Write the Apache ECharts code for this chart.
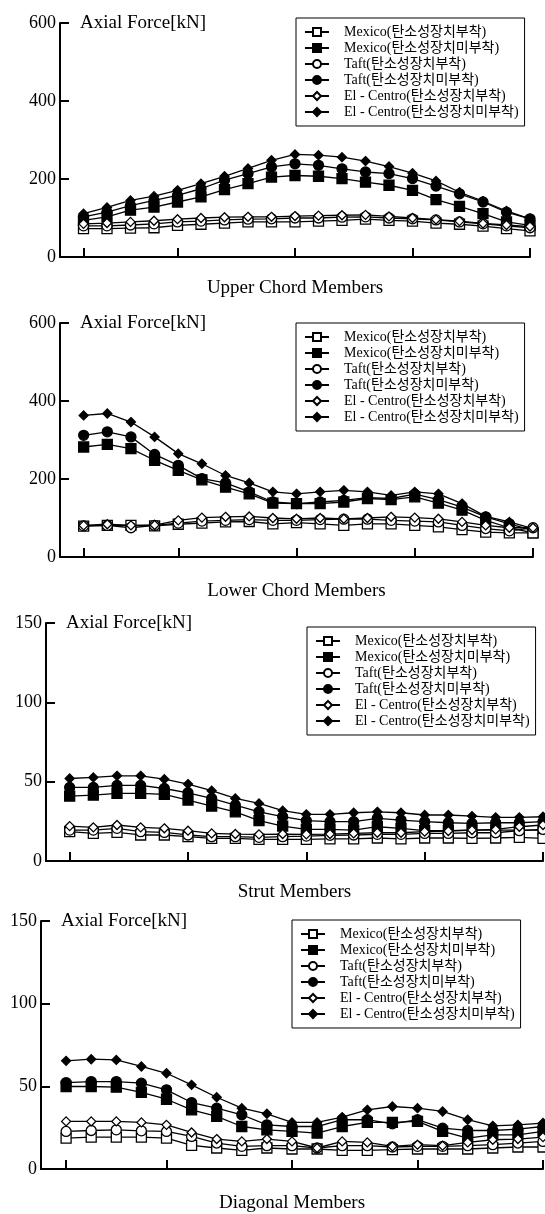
<!DOCTYPE html>
<html><head><meta charset="utf-8">
<script src="https://cdn.jsdelivr.net/npm/echarts@6/dist/echarts.min.js"></script>
<style>html,body{margin:0;padding:0;background:#fff}#c{width:545px;height:1214px}</style>
</head><body><div id="c"></div>
<script>
const seriesNames = ['Mexico(탄소성장치부착)','Mexico(탄소성장치미부착)','Taft(탄소성장치부착)','Taft(탄소성장치미부착)','El - Centro(탄소성장치부착)','El - Centro(탄소성장치미부착)'];
const panelTitles = ['Upper Chord Members','Lower Chord Members','Strut Members','Diagonal Members'];
const yTitle = 'Axial Force[kN]';

const upperMemberNo = [1,2,3,4,5,6,7,8,9,10,11,12,13,14,15,16,17,18,19,20];
const upperTicks = [1,5,10,15,20];
const upperMexicoD = [73,73,74,75,81,84,87,90,90,90,92,94,97,94,92,87,84,79,73,67];
const upperMexicoU = [94,103,120,128,141,154,173,188,205,209,207,201,192,184,171,147,130,111,90,81];
const upperTaftD = [80,80,82,85,90,92,95,97,98,100,100,102,103,100,98,95,90,85,80,75];
const upperTaftU = [103,115,132,145,158,175,197,214,231,239,235,226,218,214,201,182,162,141,115,98];
const upperElD = [85,87,90,93,97,100,102,103,103,105,106,107,108,104,100,96,92,86,82,78];
const upperElU = [111,127,145,156,171,188,207,227,248,263,261,256,246,232,215,195,166,143,118,98];

const lowerMemberNo = [1,2,3,4,5,6,7,8,9,10,11,12,13,14,15,16,17,18,19,20];
const lowerTicks = [1,5,10,15,20];
const lowerMexicoD = [79,81,81,80,84,87,90,91,85,88,85,81,85,85,81,77,70,64,62,62];
const lowerMexicoU = [282,289,278,248,222,198,179,162,138,137,137,141,150,147,154,138,120,94,75,62];
const lowerTaftD = [80,81,75,81,87,92,94,96,94,94,96,97,97,94,92,90,81,73,67,75];
const lowerTaftU = [312,321,308,263,235,201,190,167,141,137,141,145,152,150,161,147,128,103,85,68];
const lowerElD = [81,84,81,82,94,101,103,104,100,98,100,98,100,103,101,98,90,81,75,75];
const lowerElU = [363,368,346,308,265,239,209,190,167,162,167,171,167,158,167,162,137,104,90,73];

const strutMemberNo = [1,2,3,4,5,6,7,8,9,10,11,12,13,14,15,16,17,18,19,20,21];
const strutTicks = [1,6,11,16,21];
const strutMexicoD = [18.5,17.4,18,16.4,16.4,15.3,14.3,14.3,13.6,13.6,13.6,14,14,14.5,14,14.5,14.5,14.3,14.5,14.9,14.3];
const strutMexicoU = [40.9,41.5,42.6,42.6,42,38.4,34.6,31,25.4,22,19.9,19.9,19.5,21.6,20.6,19.1,19.1,19.5,19.5,19.5,19.5];
const strutTaftD = [19.5,19.5,20.6,18.5,18,16.4,15.3,15.3,14.9,15.3,15.7,16.2,16.4,16.8,16.8,17.4,17.4,17.8,17.8,19.1,19.9];
const strutTaftU = [46.4,46.4,47.6,47.6,45.7,43,39.4,35.2,31,27.9,25.4,24.8,24.8,26.9,25.8,24.8,24.1,23.7,24.1,24.1,24.8];
const strutElD = [22,21.2,22.7,21.2,20.6,19.1,17.4,17,16.8,17,16.8,17,17.4,17.8,17.8,18.5,18.9,19.5,19.9,21.6,22.7];
const strutElU = [52,52.7,53.7,53.7,51.6,48.5,44.3,39.4,36.3,31.7,29.4,29.4,30.4,31,30.4,29,29,28.3,27.5,27.5,27.9];

const diagMemberNo = [1,2,3,4,5,6,7,8,9,10,11,12,13,14,15,16,17,18,19,20];
const diagTicks = [1,5,10,15,20];
const diagMexicoD = [18.7,19.3,19.3,19.3,18.7,14.3,12.7,11.3,12.7,12.1,12.1,11.3,11.3,11.7,12.1,12.1,12.1,12.7,13.3,13.3];
const diagMexicoU = [49.9,49.9,49.5,46.3,42.2,35.8,31.8,25.7,23.7,22.7,21.7,25.7,28.2,28.2,28.8,22.7,18.7,20.7,20.7,22.7];
const diagTaftD = [22.7,23.3,23.7,23.1,22.7,19.7,15.7,13.7,14.1,14.1,12.7,14.1,14.1,13.3,13.7,13.7,14.1,14.7,15.7,16.7];
const diagTaftU = [52.3,52.9,52.9,51.9,47.9,40.2,36.8,32.8,26.7,25.7,25.7,29.8,29.8,27.3,29.8,24.7,23.3,23.3,24.1,25.7];
const diagElD = [28.8,28.8,28.8,28.2,26.7,22.1,18.1,16.7,18.1,16.7,12.7,16.7,16.1,13.7,14.7,14.1,16.1,17.7,18.1,19.3];
const diagElU = [65.4,66.4,66,62,57.9,50.9,43.4,36.8,33.4,28.2,28.2,31.4,35.8,37.8,36.8,34.8,29.8,26.1,26.7,27.8];

const yMax = [600,600,150,150];
const yInterval = [200,200,50,50];

const panels = [
  {x: upperMemberNo, ticks: upperTicks, data: [upperMexicoD,upperMexicoU,upperTaftD,upperTaftU,upperElD,upperElU]},
  {x: lowerMemberNo, ticks: lowerTicks, data: [lowerMexicoD,lowerMexicoU,lowerTaftD,lowerTaftU,lowerElD,lowerElU]},
  {x: strutMemberNo, ticks: strutTicks, data: [strutMexicoD,strutMexicoU,strutTaftD,strutTaftU,strutElD,strutElU]},
  {x: diagMemberNo, ticks: diagTicks, data: [diagMexicoD,diagMexicoU,diagTaftD,diagTaftU,diagElD,diagElU]}
];

// layout (pixels)
const grids = [
  {left: 60, width: 470, top: 23, height: 234},
  {left: 60, width: 473, top: 323, height: 234},
  {left: 46, width: 497, top: 623, height: 238},
  {left: 41, width: 502, top: 921, height: 248}
];
const nameGaps = [22, 25, 22, 25];
const legendPos = [
  {left: 296, top: 18},
  {left: 296, top: 323},
  {left: 307, top: 627},
  {left: 292, top: 920}
];

const serif = '"Liberation Serif", "Noto Sans CJK KR", serif';
const symbols = ['rect','rect','circle','circle','diamond','diamond'];
const filled = [false,true,false,true,false,true];
const symSize = [10,10,10,10,9,9];

const option = {
  backgroundColor: '#fff',
  animation: false,
  grid: grids.map(g => Object.assign({containLabel: false}, g)),
  xAxis: panels.map((p, i) => ({
    gridIndex: i, type: 'value', min: 0, max: p.x.length,
    name: panelTitles[i], nameLocation: 'middle', nameGap: nameGaps[i],
    nameTextStyle: {fontFamily: serif, fontSize: 19, color: '#000'},
    axisLine: {show: true, lineStyle: {color: '#000', width: 2}},
    axisTick: {show: true, inside: true, length: 9, customValues: p.ticks, lineStyle: {color: '#000', width: 2}},
    axisLabel: {show: false},
    splitLine: {show: false}
  })),
  yAxis: panels.map((p, i) => ({
    gridIndex: i, type: 'value', min: 0, max: yMax[i], interval: yInterval[i],
    name: yTitle, nameLocation: 'end', nameGap: 0,
    nameTextStyle: {fontFamily: serif, fontSize: 19, color: '#000', align: 'left', verticalAlign: 'middle', padding: [0,0,0,20]},
    axisLine: {show: true, lineStyle: {color: '#000', width: 2}},
    axisTick: {show: true, inside: true, length: 9, lineStyle: {color: '#000', width: 2}},
    axisLabel: {fontFamily: serif, fontSize: 18, color: '#000', margin: 4},
    splitLine: {show: false}
  })),
  legend: legendPos.map(lp => ({
    data: seriesNames, orient: 'vertical', left: lp.left, top: lp.top,
    itemWidth: 24, itemHeight: 10, itemGap: 2,
    padding: [7, 6, 7, 8],
    borderColor: '#000', borderWidth: 1,
    textStyle: {fontFamily: serif, fontSize: 14, lineHeight: 13, color: '#000', padding: [0,0,0,10]},
    selectedMode: false
  })),
  series: []
};

panels.forEach((p, i) => {
  p.data.forEach((vals, k) => {
    option.series.push({
      name: seriesNames[k], type: 'line', xAxisIndex: i, yAxisIndex: i,
      data: p.x.map((x, j) => [x, vals[j]]),
      symbol: symbols[k], symbolSize: symSize[k], showSymbol: true,
      lineStyle: {color: '#000', width: 1.3},
      itemStyle: {color: filled[k] ? '#000' : '#fff', borderColor: '#000', borderWidth: 1.3},
      z: filled[k] ? 3 : 4
    });
  });
});

const chart = echarts.init(document.getElementById('c'), null, {renderer: 'canvas'});
chart.setOption(option);
</script></body></html>
